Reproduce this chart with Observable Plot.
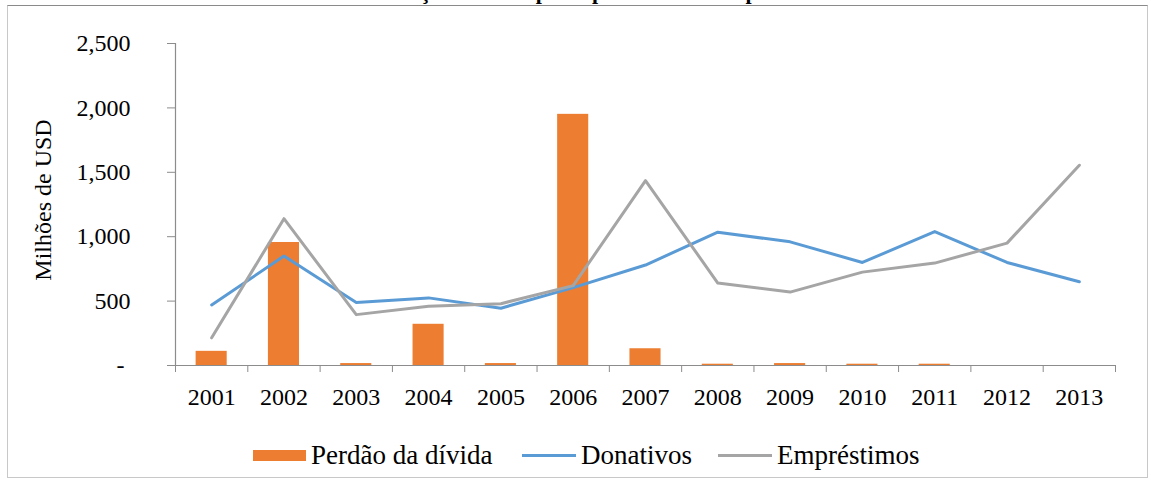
<!DOCTYPE html>
<html>
<head>
<meta charset="utf-8">
<script src="https://cdn.jsdelivr.net/npm/d3@7"></script>
<script src="https://cdn.jsdelivr.net/npm/@observablehq/plot@0.6"></script>
<style>
  body { margin: 0; background: #fff; }
  #wrap { position: relative; width: 1151px; height: 480px; overflow: hidden; font-family: "Liberation Serif", "DejaVu Serif", serif; color: #000; }
  #frame { position: absolute; left: 7px; top: 5px; width: 1141px; height: 473px; border: 1px solid #c8c8c8; border-top-color: #8a8a8a; box-sizing: border-box; }
  #title { position: absolute; left: 0; top: -19px; width: 1151px; text-align: center; font-weight: bold; font-size: 22px; line-height: 22px; white-space: nowrap; }
  #chart { position: absolute; left: 0; top: 0; }
  #chart svg text { font-family: "Liberation Serif", "DejaVu Serif", serif; }
  #ylabel { position: absolute; left: 43px; top: 200px; transform: translate(-50%, -50%) rotate(-90deg); font-size: 24px; white-space: nowrap; }
  .leg { position: absolute; top: 440px; height: 30px; display: flex; align-items: center; font-size: 27px; white-space: nowrap; }
  .sw { display: inline-block; margin-right: 5px; }
</style>
</head>
<body>
<div id="wrap">
  <div id="frame"></div>
  <div id="title">Evolução das três principais formas de apoio</div>
  <div id="chart"></div>
  <div id="ylabel">Milhões de USD</div>
  <div class="leg" style="left:253px"><span class="sw" style="width:53px;height:11px;background:#ed7d31"></span>Perdão da dívida</div>
  <div class="leg" style="left:522px"><span class="sw" style="width:54px;height:3px;background:#5b9bd5"></span>Donativos</div>
  <div class="leg" style="left:718px"><span class="sw" style="width:54px;height:3px;background:#a5a5a5"></span>Empréstimos</div>
</div>
<script>
const years = [2001, 2002, 2003, 2004, 2005, 2006, 2007, 2008, 2009, 2010, 2011, 2012, 2013];
const perdao = [110, 955, 15, 320, 15, 1950, 130, 10, 15, 10, 10, 0, 0];
const donativos = [470, 850, 490, 525, 445, 605, 780, 1035, 960, 800, 1040, 800, 650];
const emprestimos = [215, 1140, 395, 460, 480, 620, 1435, 640, 570, 725, 795, 950, 1555];
const yTicks = [0, 500, 1000, 1500, 2000, 2500];
const seriesNames = ["Perdão da dívida", "Donativos", "Empréstimos"];
const seriesColors = ["#ed7d31", "#5b9bd5", "#a5a5a5"];

const bars = years.map((y, i) => ({ year: y, value: perdao[i] }));
const lineData = [
  ...years.map((y, i) => ({ year: y, value: donativos[i], s: seriesNames[1] })),
  ...years.map((y, i) => ({ year: y, value: emprestimos[i], s: seriesNames[2] }))
];
const boundaries = [...years.map(y => y - 0.5), years[years.length - 1] + 0.5];
const fmt = d3.format(",");

const chart = Plot.plot({
  width: 1151,
  height: 430,
  marginLeft: 175,
  marginRight: 36,
  marginTop: 43,
  marginBottom: 65,
  x: { domain: [boundaries[0], boundaries[boundaries.length - 1]] },
  y: { domain: [0, 2500] },
  color: { domain: seriesNames, range: seriesColors },
  style: { fontFamily: "Liberation Serif, DejaVu Serif, serif", fontSize: "24px", color: "#000", background: "transparent" },
  marks: [
    Plot.rectY(bars, { x1: d => d.year - 0.215, x2: d => d.year + 0.215, y: "value", fill: seriesColors[0] }),
    Plot.ruleX([boundaries[0]], { stroke: "#8c8c8c", strokeWidth: 1.2 }),
    Plot.ruleY([0], { stroke: "#8c8c8c", strokeWidth: 1.2 }),
    Plot.axisY({ ticks: yTicks, tickSize: 8, tickPadding: 37, stroke: "#8c8c8c", fill: "#000", label: null,
      tickFormat: d => d === 0 ? "-\u00a0" : fmt(d) }),
    Plot.axisX({ ticks: years, tickSize: 0, tickPadding: 22, fill: "#000", label: null, tickFormat: d => String(d) }),
    Plot.axisX({ ticks: boundaries, tickSize: 7, stroke: "#8c8c8c", label: null, tickFormat: () => "" }),
    Plot.lineY(lineData, { x: "year", y: "value", z: "s", stroke: "s", strokeWidth: 3, strokeLinejoin: "round" })
  ]
});
document.getElementById("chart").appendChild(chart);
</script>
</body>
</html>
